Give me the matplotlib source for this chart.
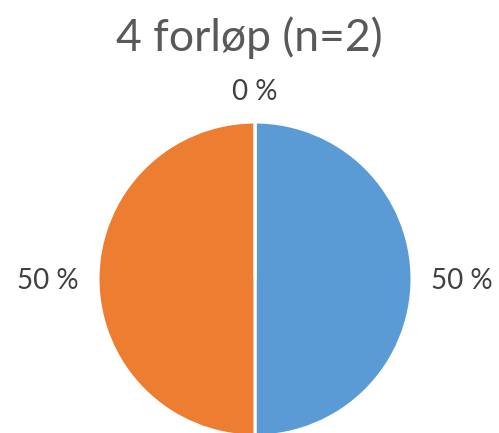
import matplotlib
matplotlib.use("Agg")
import matplotlib.pyplot as plt

title = "4 forløp (n=2)"
categories = ["A", "B", "C"]
values = [50, 50, 0]
colors = ["#5B9BD5", "#ED7D31", "#A5A5A5"]

plt.rcParams['font.family'] = ['Lato', 'DejaVu Sans']

W, H = 499, 433
fig = plt.figure(figsize=(W / 100, H / 100), dpi=100)
cx, cy, r = 255, 279, 157
ax = fig.add_axes([(cx - r) / W, (H - cy - r) / H, 2 * r / W, 2 * r / H])
wedges, texts, autotexts = ax.pie(
    values, colors=colors, startangle=90, counterclock=False,
    autopct=lambda p: f"{p:.0f} %", pctdistance=1.32,
    wedgeprops=dict(edgecolor="white", linewidth=2.2),
    textprops=dict(fontsize=20, color="#404040"))
for v, t in zip(values, autotexts):
    if v == 0:
        t.set_position((0, 1.19))
    else:
        x, y = t.get_position()
        t.set_position((x, y - 0.015))
ax.set_xlim(-1, 1)
ax.set_ylim(-1, 1)
ax.set_aspect("equal")
ax.axis("off")
for w in wedges:
    w.set_clip_on(False)

fig.text(0.5, 1 - 38 / H, title, ha="center", va="center", fontsize=32, color="#595959")
fig.savefig("out.png", dpi=100)
